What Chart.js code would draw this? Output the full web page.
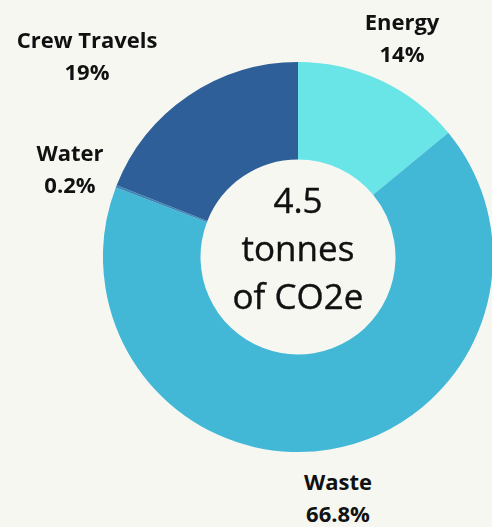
<!DOCTYPE html>
<html>
<head>
<meta charset="utf-8">
<script src="https://cdn.jsdelivr.net/npm/chart.js@4/dist/chart.umd.min.js"></script>
<style>
  html, body { margin: 0; padding: 0; }
  body {
    width: 492px; height: 527px; overflow: hidden; position: relative;
    background: #f7f7f2; font-family: "Open Sans", sans-serif; color: #111;
  }
  #wrap { position: absolute; left: 103px; top: 62px; width: 390px; height: 390px; }
  .lbl {
    position: absolute; width: 200px; margin-left: -100px; text-align: center;
    font-weight: 700; font-size: 22px; line-height: 32px;
  }
  #center {
    position: absolute; left: 198px; top: 176px; width: 200px; text-align: center;
    font-size: 35px; line-height: 48px; font-weight: 400;
    -webkit-text-stroke: 0.4px #111;
  }
</style>
</head>
<body>
<div id="wrap"><canvas id="chart"></canvas></div>
<div id="center">4.5<br>tonnes<br>of CO2e</div>
<div id="labels"></div>
<script>
const categories = ['Energy', 'Waste', 'Water', 'Crew Travels'];
const shares = [14, 66.8, 0.2, 19];
const shareText = ['14%', '66.8%', '0.2%', '19%'];
const colors = ['#69e4e7', '#42b8d6', '#3a88b8', '#2e5f98'];

// where each label block sits (centre x, top y)
const labelPos = [[402, 5], [338, 465], [70, 136], [87, 23]];

categories.forEach((c, i) => {
  const d = document.createElement('div');
  d.className = 'lbl';
  d.style.left = labelPos[i][0] + 'px';
  d.style.top = labelPos[i][1] + 'px';
  d.innerHTML = c + '<br>' + shareText[i];
  document.getElementById('labels').appendChild(d);
});

new Chart(document.getElementById('chart'), {
  type: 'doughnut',
  data: {
    labels: categories,
    datasets: [{
      data: shares,
      backgroundColor: colors,
      borderWidth: 0
    }]
  },
  options: {
    responsive: true,
    maintainAspectRatio: false,
    animation: false,
    cutout: '50%',
    layout: { padding: 0 },
    plugins: {
      legend: { display: false },
      tooltip: { enabled: false }
    }
  }
});
</script>
</body>
</html>
